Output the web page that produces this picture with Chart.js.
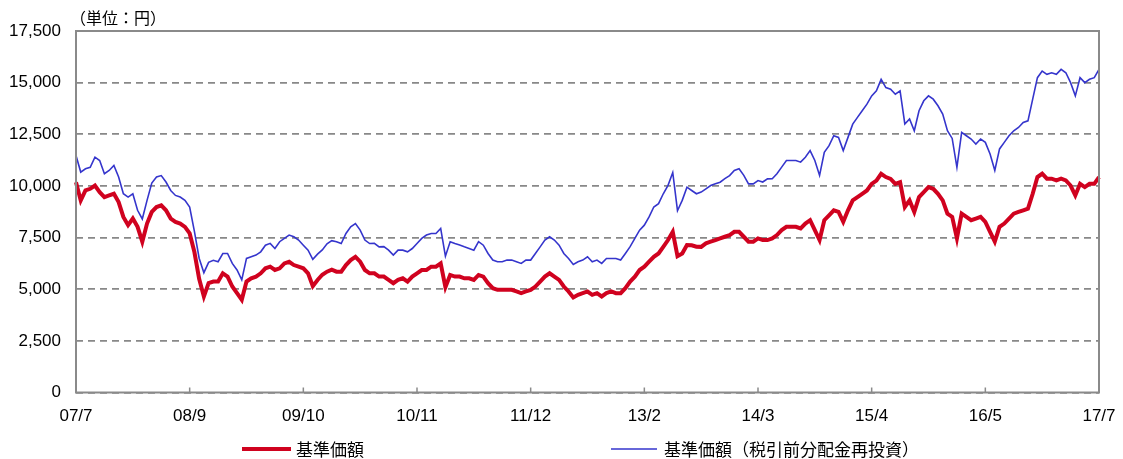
<!DOCTYPE html>
<html lang="ja">
<head>
<meta charset="utf-8">
<script src="https://cdn.jsdelivr.net/npm/chart.js@4.4.0/dist/chart.umd.min.js"></script>
<style>
    html, body { margin: 0; padding: 0; background: #fff; }
    #wrap { width: 1123px; height: 459px; position: relative; }
</style>
</head>
<body>
<div id="wrap"><canvas id="navChart" width="1123" height="459"></canvas></div>
<script>
const tickLabels = ['07/7', '08/9', '09/10', '10/11', '11/12', '13/2', '14/3', '15/4', '16/5', '17/7'];
const pointsPerTick = 24;
const seriesNames = ['基準価額', '基準価額（税引前分配金再投資）'];
const unitLabel = '（単位：円）';

// 基準価額 (1行 = 目盛り1区間)
const navValues = [
    10180, 9300, 9780, 9860, 10020, 9700, 9460, 9540, 9620, 9220, 8500, 8100,
    8420, 8020, 7300, 8180, 8740, 8980, 9060, 8820, 8420, 8260, 8180, 8020,
    7700, 6800, 5500, 4650, 5300, 5370, 5370, 5770, 5610, 5130, 4810, 4490,
    5370, 5530, 5610, 5770, 6010, 6090, 5930, 6010, 6250, 6330, 6170, 6090,
    6010, 5770, 5150, 5450, 5700, 5850, 5950, 5850, 5850, 6170, 6410, 6570,
    6330, 5930, 5770, 5770, 5610, 5610, 5450, 5290, 5450, 5530, 5370, 5610,
    5770, 5930, 5930, 6090, 6090, 6250, 5100, 5690, 5610, 5610, 5530, 5530,
    5450, 5690, 5610, 5290, 5050, 4970, 4970, 4970, 4970, 4890, 4810, 4890,
    4970, 5130, 5370, 5610, 5770, 5610, 5450, 5130, 4890, 4600, 4730, 4810,
    4890, 4730, 4810, 4650, 4810, 4890, 4810, 4810, 5050, 5370, 5610, 5930,
    6090, 6330, 6570, 6730, 7050, 7380, 7780, 6600, 6730, 7140, 7130, 7060,
    7050, 7220, 7300, 7380, 7460, 7540, 7620, 7780, 7780, 7540, 7300, 7300,
    7460, 7380, 7380, 7460, 7620, 7860, 8020, 8020, 8020, 7940, 8180, 8340,
    7860, 7380, 8340, 8580, 8820, 8740, 8260, 8820, 9300, 9460, 9620, 9780,
    10100, 10260, 10590, 10430, 10340, 10100, 10180, 8980, 9300, 8740, 9460, 9700,
    9940, 9860, 9620, 9300, 8660, 8500, 7460, 8660, 8500, 8340, 8420, 8500,
    8260, 7780, 7300, 8020, 8180, 8420, 8660, 8740, 8820, 8900, 9620, 10430,
    10590, 10350, 10350, 10270, 10350, 10270, 10020, 9540, 10100, 9940, 10100, 10100,
    10430
];

// 基準価額（税引前分配金再投資）
const reinvestedValues = [
    11470, 10670, 10830, 10900, 11390, 11230, 10590, 10750, 10990, 10430, 9620, 9460,
    9620, 8820, 8400, 9300, 10140, 10430, 10500, 10190, 9780, 9540, 9460, 9300,
    8980, 7800, 6500, 5800, 6300, 6400, 6330, 6730, 6730, 6250, 5930, 5450,
    6490, 6570, 6650, 6810, 7130, 7220, 6970, 7300, 7460, 7620, 7540, 7380,
    7130, 6890, 6450, 6700, 6900, 7200, 7350, 7300, 7210, 7700, 8020, 8180,
    7860, 7380, 7210, 7220, 7050, 7060, 6890, 6650, 6890, 6890, 6810, 6970,
    7210, 7460, 7620, 7700, 7700, 7940, 6600, 7300, 7210, 7140, 7050, 6970,
    6890, 7300, 7130, 6730, 6410, 6330, 6330, 6410, 6410, 6330, 6250, 6410,
    6410, 6730, 7050, 7380, 7540, 7380, 7130, 6730, 6490, 6200, 6330, 6410,
    6570, 6330, 6410, 6250, 6490, 6490, 6490, 6410, 6730, 7060, 7460, 7860,
    8100, 8500, 8980, 9140, 9620, 10030, 10650, 8800, 9300, 9940, 9780, 9620,
    9700, 9860, 10020, 10100, 10180, 10350, 10500, 10750, 10830, 10510, 10100, 10100,
    10260, 10190, 10340, 10350, 10590, 10910, 11230, 11230, 11230, 11150, 11390, 11710,
    11230, 10510, 11630, 11950, 12430, 12350, 11710, 12350, 12990, 13320, 13640, 13960,
    14360, 14600, 15160, 14760, 14680, 14440, 14600, 13000, 13240, 12670, 13640, 14120,
    14360, 14200, 13880, 13480, 12670, 12300, 10900, 12590, 12430, 12270, 12030, 12270,
    12110, 11550, 10750, 11790, 12110, 12430, 12670, 12830, 13070, 13150, 14200, 15240,
    15560, 15400, 15480, 15400, 15640, 15480, 15000, 14360, 15240, 15000, 15160, 15240,
    15640
];

const yMin = 0;
const yMax = 17500;
const yStep = 2500;

document.addEventListener('DOMContentLoaded', function() {
    const categories = navValues.map((v, i) => (i % pointsPerTick === 0 ? tickLabels[i / pointsPerTick] : ''));
    const lineColors = ['#D0021F', '#3535CC'];
    const lineWidths = [4, 1.6];
    const baseFont = "'Liberation Sans', Arial, 'Noto Sans CJK JP', sans-serif";
    const jpFont = "'Noto Sans CJK JP', 'Liberation Sans', sans-serif";

    // 枠線・内向き目盛り・単位・凡例
    const framePlugin = {
        id: 'framePlugin',
        afterDraw(chart) {
            const ctx = chart.ctx;
            const area = chart.chartArea;
            const xScale = chart.scales.x;
            ctx.save();
            ctx.strokeStyle = '#8a8a8a';
            ctx.lineWidth = 2;
            ctx.strokeRect(area.left, area.top, area.right - area.left, area.bottom - area.top);

            ctx.lineWidth = 1.5;
            categories.forEach((c, i) => {
                if (!c) return;
                const x = xScale.getPixelForValue(i);
                ctx.beginPath();
                ctx.moveTo(x, area.bottom);
                ctx.lineTo(x, area.bottom - 5);
                ctx.stroke();
            });

            ctx.fillStyle = '#000';
            ctx.font = '16px ' + jpFont;
            ctx.textBaseline = 'middle';
            ctx.textAlign = 'left';
            ctx.fillText(unitLabel, 70, 18);

            const legendItems = [
                { x0: 242, x1: 291, tx: 296 },
                { x0: 611, x1: 657, tx: 664 }
            ];
            ctx.font = '17px ' + jpFont;
            legendItems.forEach((item, k) => {
                ctx.strokeStyle = lineColors[k];
                ctx.lineWidth = lineWidths[k];
                ctx.beginPath();
                ctx.moveTo(item.x0, 449);
                ctx.lineTo(item.x1, 449);
                ctx.stroke();
                ctx.fillText(seriesNames[k], item.tx, 450);
            });
            ctx.restore();
        }
    };

    new Chart(document.getElementById('navChart'), {
        type: 'line',
        data: {
            labels: categories,
            datasets: [
                {
                    label: seriesNames[0],
                    data: navValues,
                    borderColor: lineColors[0],
                    borderWidth: lineWidths[0],
                    pointRadius: 0,
                    tension: 0,
                    fill: false
                },
                {
                    label: seriesNames[1],
                    data: reinvestedValues,
                    borderColor: lineColors[1],
                    borderWidth: lineWidths[1],
                    pointRadius: 0,
                    tension: 0,
                    fill: false
                }
            ]
        },
        options: {
            responsive: false,
            animation: false,
            layout: { padding: { left: 0, right: 24, top: 31, bottom: 0 } },
            plugins: {
                legend: { display: false },
                tooltip: { enabled: false }
            },
            scales: {
                x: {
                    type: 'category',
                    offset: false,
                    grid: { display: false },
                    border: { display: false },
                    ticks: {
                        autoSkip: false,
                        maxRotation: 0,
                        padding: 6,
                        color: '#000',
                        font: { family: baseFont, size: 17 },
                        callback: (v, i) => categories[i] || null
                    },
                    afterFit: (scale) => { scale.height = 66.5; }
                },
                y: {
                    min: yMin,
                    max: yMax,
                    grid: {
                        color: '#888888',
                        lineWidth: 1.8,
                        drawTicks: false
                    },
                    border: { display: false, dash: [7, 5] },
                    ticks: {
                        stepSize: yStep,
                        padding: 15,
                        color: '#000',
                        font: { family: baseFont, size: 17 },
                        callback: (v) => v.toLocaleString('en-US')
                    },
                    afterFit: (scale) => { scale.width = 76; }
                }
            }
        },
        plugins: [framePlugin]
    });
});
</script>
</body>
</html>
